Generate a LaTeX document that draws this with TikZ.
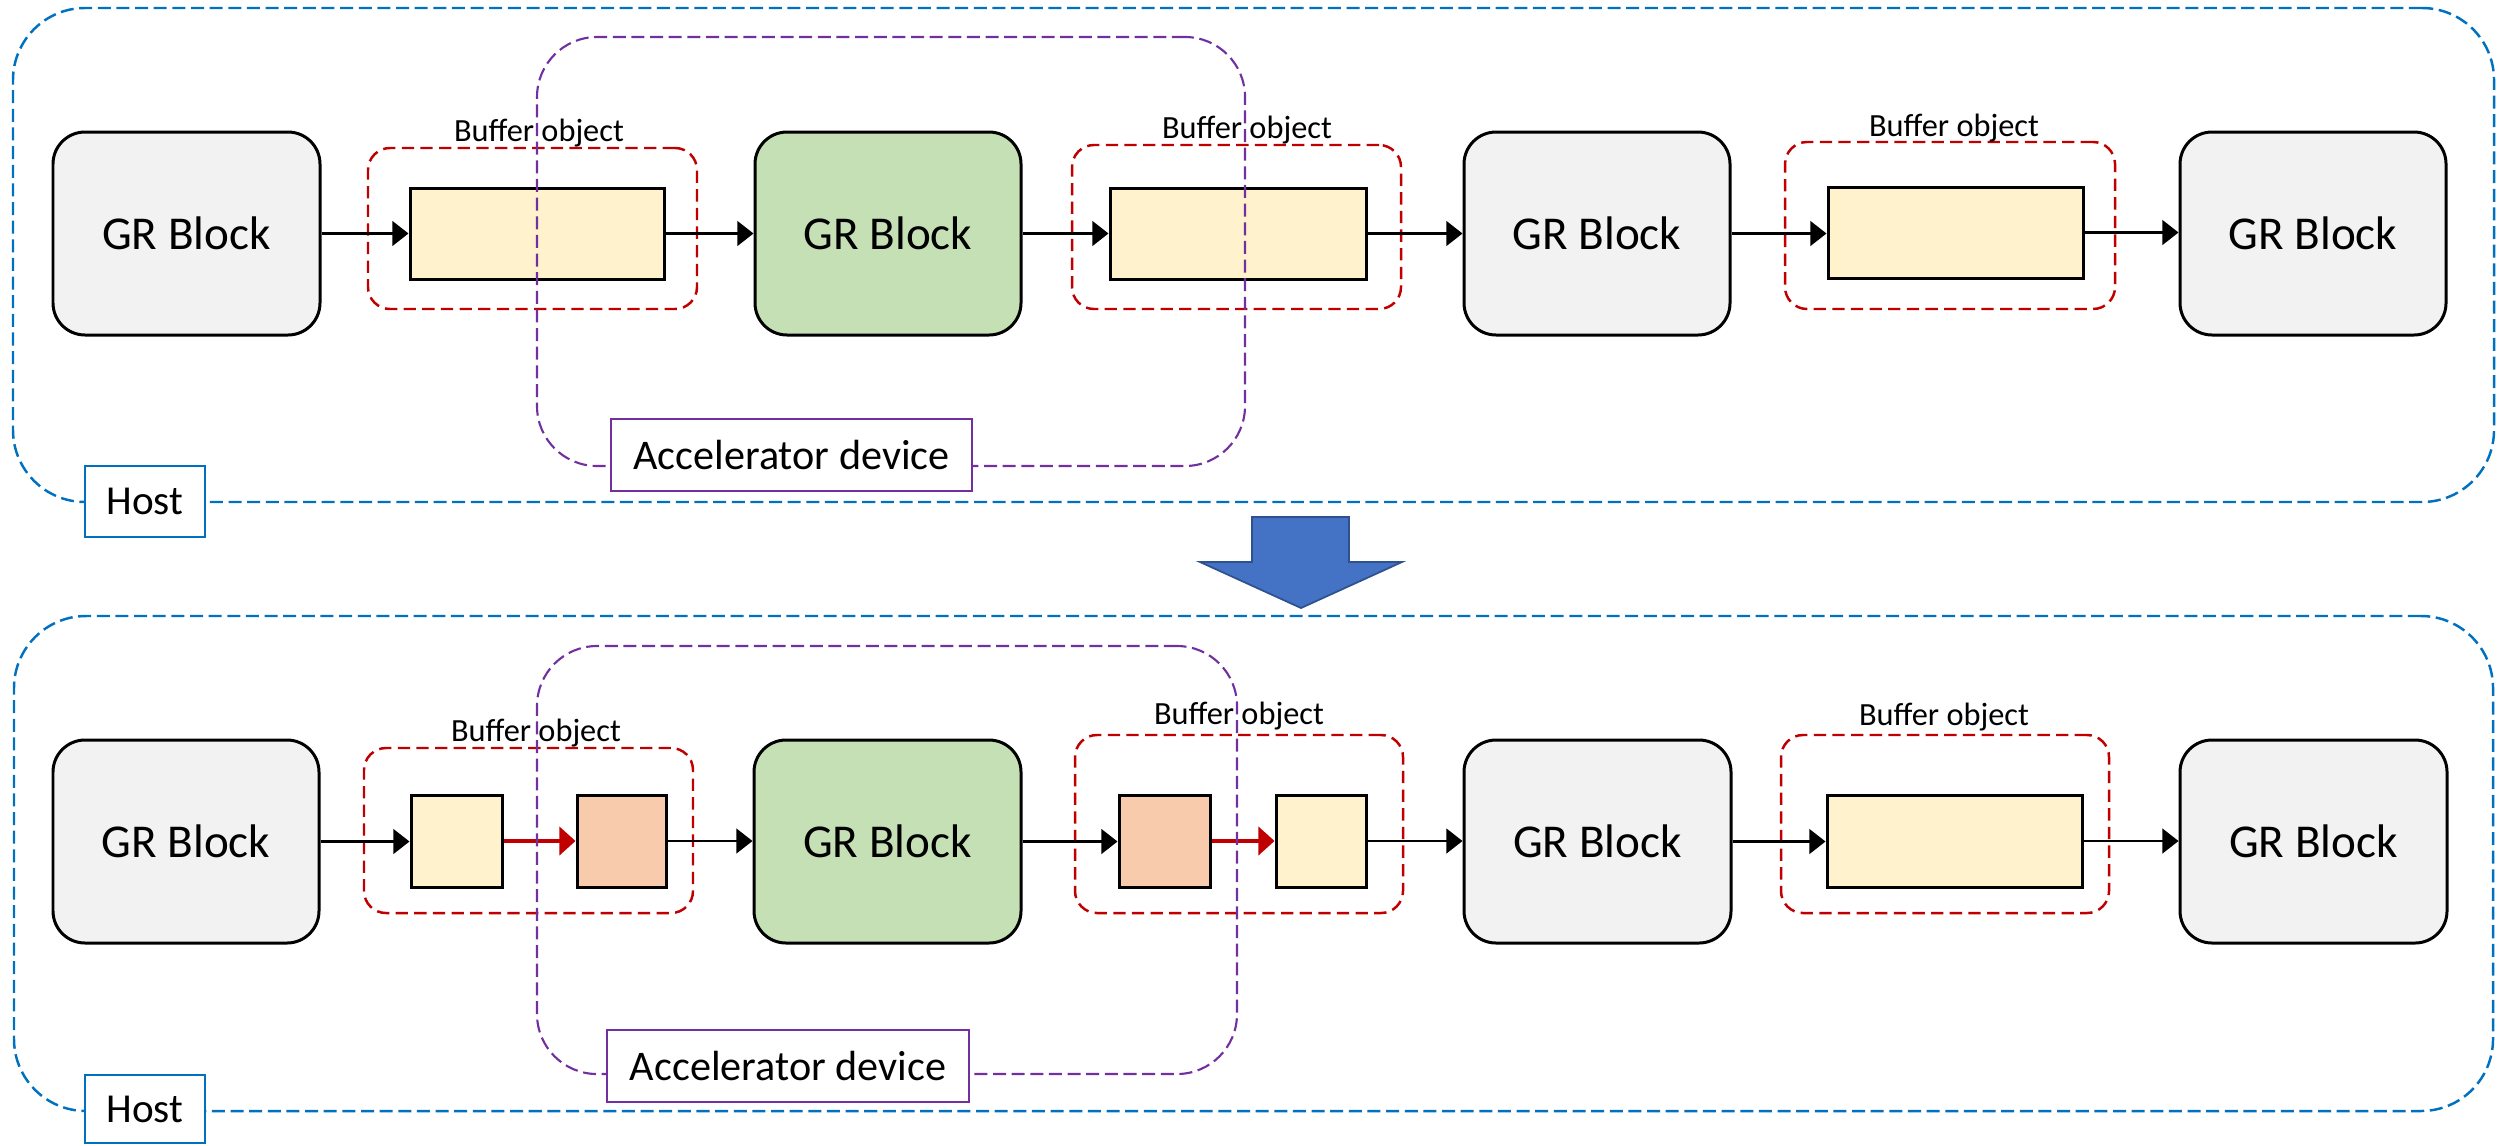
\documentclass[tikz,border=0pt]{standalone}
\usepackage{fontspec}
\setmainfont{Carlito}
\usetikzlibrary{fit,arrows.meta}
\definecolor{hostblue}{HTML}{0070C0}
\definecolor{accpurple}{HTML}{7030A0}
\definecolor{bufred}{HTML}{C00000}
\definecolor{yelf}{HTML}{FFF2CC}
\definecolor{oranf}{HTML}{F8CBAD}
\definecolor{greenf}{HTML}{C5E0B4}
\definecolor{grayf}{HTML}{F2F2F2}
\definecolor{bigarrowf}{HTML}{4472C4}
\definecolor{bigarrowd}{HTML}{2F528F}
\begin{document}
\begin{tikzpicture}[x=0.01cm,y=-0.01cm,
  hostbox/.style={draw=hostblue, line width=0.7pt, dash pattern=on 3.7pt off 1.6pt, rounded corners=0.72cm, inner sep=0pt},
  accbox/.style={draw=accpurple, line width=0.6pt, dash pattern=on 3.7pt off 1.6pt, rounded corners=0.6cm, inner sep=0pt},
  grtext/.style={inner sep=0pt, font=\fontsize{13.4pt}{15pt}\selectfont},
  gr/.style={draw=black, line width=0.85pt, rounded corners=0.32cm, fill=grayf, inner sep=0pt, label={[grtext]center:GR Block}},
  grg/.style={gr, fill=greenf},
  buf/.style={draw=bufred, line width=0.7pt, dash pattern=on 3.5pt off 1.8pt, rounded corners=0.22cm, inner sep=0pt},
  yel/.style={draw=black, line width=0.85pt, fill=yelf, inner sep=0pt},
  ora/.style={draw=black, line width=0.85pt, fill=oranf, inner sep=0pt},
  bl/.style={inner sep=0pt, font=\fontsize{9.2pt}{10pt}\selectfont},
  acctext/.style={inner sep=0pt, font=\fontsize{12pt}{14pt}\selectfont},
  hosttext/.style={inner sep=0pt, font=\fontsize{11.7pt}{14pt}\selectfont},
  acclabel/.style={draw=accpurple, line width=0.6pt, fill=white, inner sep=0pt, label={[acctext]center:Accelerator device}},
  hostlabel/.style={draw=hostblue, line width=0.6pt, fill=white, inner sep=0pt, label={[hosttext]center:Host}},
  arr/.style={-{Triangle[length=4.6pt,width=7pt]}, line width=0.75pt, draw=black},
  rarr/.style={-{Triangle[length=4.6pt,width=8pt]}, line width=1.1pt, draw=bufred, color=bufred}
]
\useasboundingbox (0,0) rectangle (2498,1145);

% ===== Top panel =====
\node[hostbox, fit={(13,8)(2494,502)}] (hostA) {};
\node[gr, fit={(53,132)(320,335)}] (a1) {};
\node[buf, fit={(368,148)(697,309)}] (ab1) {};
\node[yel, fit={(410,188)(664,279)}] (ay1) {};
\node[bl] (al1) at (539,133) {Buffer object};
\node[grg, fit={(755,132)(1021,335)}] (a2) {};
\node[buf, fit={(1072,145)(1401,309)}] (ab2) {};
\node[yel, fit={(1110,188)(1366,279)}] (ay2) {};
\node[bl] (al2) at (1247,130) {Buffer object};
\node[gr, fit={(1464,132)(1730,335)}] (a3) {};
\node[buf, fit={(1785,142)(2115,309)}] (ab3) {};
\node[yel, fit={(1828,187)(2083,278)}] (ay3) {};
\node[bl] (al3) at (1954,128) {Buffer object};
\node[gr, fit={(2180,132)(2446,335)}] (a4) {};

\draw[arr] (a1.east) -- (a1.east -| ay1.west);
\draw[arr] (ay1.east) -- (ay1.east -| a2.west);
\draw[arr] (a2.east) -- (a2.east -| ay2.west);
\draw[arr] (ay2.east) -- (ay2.east -| a3.west);
\draw[arr] (a3.east) -- (a3.east -| ay3.west);
\draw[arr] (ay3.east) -- (ay3.east -| a4.west);

\node[accbox, fit={(537,37)(1245,466)}] (accA) {};
\node[acclabel, fit={(611,419)(972,491)}] (accAl) {};
\node[hostlabel, fit={(85,466)(205,537)}] (hostAl) {};

% ===== Down arrow =====
\filldraw[fill=bigarrowf, draw=bigarrowd, line width=0.5pt, line join=miter]
  (1252,517) -- (1349,517) -- (1349,562) -- (1402,562) -- (1301,608) -- (1200,562) -- (1252,562) -- cycle;

% ===== Bottom panel =====
\node[hostbox, fit={(14,616)(2493,1111)}] (hostB) {};
\node[gr, fit={(53,740)(319,943)}] (b1) {};
\node[buf, fit={(364,748)(693,913)}] (bb1) {};
\node[yel, fit={(411,795)(502,887)}] (by1) {};
\node[ora, fit={(577,795)(666,887)}] (bo1) {};
\node[bl] (bl1) at (536,733) {Buffer object};
\node[grg, fit={(754,740)(1021,943)}] (b2) {};
\node[buf, fit={(1075,735)(1403,913)}] (bb2) {};
\node[ora, fit={(1119,795)(1210,887)}] (bo2) {};
\node[yel, fit={(1276,795)(1366,887)}] (by2) {};
\node[bl] (bl2) at (1239,716) {Buffer object};
\node[gr, fit={(1464,740)(1731,943)}] (b3) {};
\node[buf, fit={(1781,735)(2109,913)}] (bb3) {};
\node[yel, fit={(1827,795)(2082,887)}] (by3) {};
\node[bl] (bl3) at (1944,717) {Buffer object};
\node[gr, fit={(2180,740)(2447,943)}] (b4) {};

\draw[arr] (b1.east) -- (b1.east -| by1.west);
\draw[rarr] (by1.east) -- (by1.east -| bo1.west);
\draw[arr] (bo1.east) -- (bo1.east -| b2.west);
\draw[arr] (b2.east) -- (b2.east -| bo2.west);
\draw[rarr] (bo2.east) -- (bo2.east -| by2.west);
\draw[arr] (by2.east) -- (by2.east -| b3.west);
\draw[arr] (b3.east) -- (b3.east -| by3.west);
\draw[arr] (by3.east) -- (by3.east -| b4.west);

\node[accbox, fit={(537,646)(1237,1074)}] (accB) {};
\node[acclabel, fit={(607,1030)(969,1102)}] (accBl) {};
\node[hostlabel, fit={(85,1075)(205,1143)}] (hostBl) {};
\end{tikzpicture}
\end{document}
